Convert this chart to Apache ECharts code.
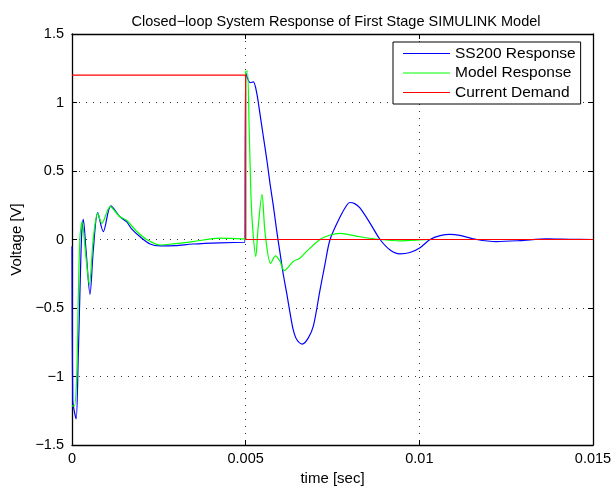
<!DOCTYPE html>
<html><head><meta charset="utf-8">
<script src="https://cdn.jsdelivr.net/npm/echarts@6/dist/echarts.min.js"></script>
<style>html,body{margin:0;padding:0;background:#fff}#c{width:615px;height:486px}</style>
</head><body><div id="c"></div>
<script>
const titleText = "Closed\u2212loop System Response of First Stage SIMULINK Model";
const seriesNames = ["SS200 Response", "Model Response", "Current Demand"];
const xTicks = [0, 0.005, 0.01, 0.015];
const yTicks = [-1.5, -1, -0.5, 0, 0.5, 1, 1.5];

const ssTime = [0, 0.00002, 0.00006, 0.00012, 0.00018, 0.00023, 0.00028, 0.000325, 0.000403, 0.000518, 0.000613, 0.00074, 0.0009, 0.00112, 0.00138, 0.00157, 0.00171, 0.00196, 0.00225, 0.00253, 0.00297, 0.00348, 0.00426, 0.00498, 0.005,
  0.005, 0.00513, 0.00522, 0.00532, 0.00541, 0.00551, 0.00561, 0.0057, 0.0058, 0.00589, 0.00599, 0.00608, 0.00618, 0.00628, 0.00637, 0.00647, 0.00663, 0.0068, 0.00695, 0.00714, 0.00728, 0.00743, 0.00772, 0.00791, 0.008, 0.00815, 0.00829, 0.00858, 0.00887, 0.00916, 0.00944, 0.00973, 0.01002, 0.01031, 0.0106, 0.01088, 0.01117, 0.01165, 0.01222, 0.0129, 0.01367, 0.01434, 0.015];
const ssVolt = [-0.05, -1.17, -1.245, -1.31, -0.855, -0.37, 0.045, 0.147, -0.077, -0.40, -0.077, 0.196, 0.057, 0.245, 0.166, 0.13, 0.08, 0.02, -0.033, -0.047, -0.045, -0.033, -0.024, -0.02, -0.02,
  1.218, 1.145, 1.15, 1.067, 0.92, 0.75, 0.58, 0.41, 0.24, 0.07, -0.10, -0.25, -0.39, -0.54, -0.66, -0.73, -0.763, -0.72, -0.63, -0.37, -0.185, 0, 0.166, 0.25, 0.27, 0.26, 0.23, 0.12, 0, -0.077, -0.105, -0.095, -0.06, 0, 0.028, 0.038, 0.03, 0, -0.015, -0.008, 0.005, 0.002, 0];

const modelTime = [0, 0.00007, 0.000135, 0.00018, 0.00023, 0.00029, 0.0004, 0.0005, 0.00061, 0.00074, 0.00086, 0.0011, 0.00136, 0.00157, 0.00186, 0.00215, 0.00253, 0.00297, 0.00348, 0.00426, 0.00492, 0.005,
  0.005, 0.00505, 0.0051, 0.00515, 0.0052, 0.00529, 0.00536, 0.00547, 0.00556, 0.00572, 0.00586, 0.00599, 0.00611, 0.00637, 0.00656, 0.00676, 0.00714, 0.00743, 0.00772, 0.00829, 0.00887, 0.00944, 0.01031, 0.015];
const modelVolt = [-1.215, -1.215, -1.0, -0.44, 0.02, 0.13, -0.125, -0.33, 0, 0.19, 0.118, 0.24, 0.17, 0.14, 0.06, 0, -0.04, -0.03, -0.015, 0.01, 0.005, 0.005,
  1.225, 1.23, 0.82, 0.34, 0.09, -0.125, 0.09, 0.33, 0.045, -0.174, -0.12, -0.16, -0.228, -0.16, -0.137, -0.085, 0, 0.033, 0.045, 0.02, 0, -0.01, 0, 0];

const demandTime = [0, 0.005, 0.005, 0.015];
const demandVolt = [1.2, 1.2, 0, 0];

const zip = (a, b) => a.map((t, i) => [t, b[i]]);
const fmtY = v => String(v).replace('-', '\u2212');
const FONT = 'Liberation Sans, Arial, Helvetica, sans-serif';
const chart = echarts.init(document.getElementById('c'), null, {renderer: 'canvas'});

const baseX = {
  type: 'value', min: xTicks[0], max: xTicks[xTicks.length - 1], interval: 0.005,
  axisLine: {show: true, onZero: false, lineStyle: {color: '#000', width: 1.3}},
  axisTick: {show: true, inside: true, length: 5, lineStyle: {color: '#000'}},
};
const baseY = {
  type: 'value', min: yTicks[0], max: yTicks[yTicks.length - 1], interval: 0.5,
  axisLine: {show: true, onZero: false, lineStyle: {color: '#000', width: 1.3}},
  axisTick: {show: true, inside: true, length: 5, lineStyle: {color: '#000'}},
};
const dotted = {show: true, lineStyle: {color: '#333', width: 1, type: [1, 6]}};
const lineIcon = 'path://M0,0 L48,0 L48,1 L0,1 Z';

chart.setOption({
  animation: false,
  backgroundColor: '#fff',
  title: {
    text: titleText, left: 331, top: 9, textAlign: 'center',
    textStyle: {fontFamily: FONT, fontSize: 14.5, fontWeight: 'normal', color: '#000'}
  },
  legend: {
    orient: 'vertical', left: 393, top: 42,
    data: seriesNames.map(n => ({name: n, icon: lineIcon})),
    itemWidth: 47, itemHeight: 1.2, itemGap: 2.5, itemTextGap: 7,
    padding: [3, 5, 3, 10],
    backgroundColor: '#fff', borderColor: '#000', borderWidth: 1, borderRadius: 0,
    textStyle: {fontFamily: FONT, fontSize: 15.5, color: '#000', lineHeight: 17}
  },
  grid: {left: 72, right: 22, top: 34, bottom: 41, containLabel: false, outerBoundsMode: 'none'},
  xAxis: [
    Object.assign({}, baseX, {
      position: 'bottom',
      name: 'time [sec]', nameLocation: 'middle', nameGap: 24,
      nameTextStyle: {fontFamily: FONT, fontSize: 15, color: '#000'},
      axisLabel: {show: true, fontFamily: FONT, fontSize: 14.5, color: '#000', margin: 6},
      splitLine: dotted
    }),
    Object.assign({}, baseX, {position: 'top', axisLabel: {show: false}, splitLine: {show: false}})
  ],
  yAxis: [
    Object.assign({}, baseY, {
      position: 'left',
      name: 'Voltage [V]', nameLocation: 'middle', nameGap: 43, nameRotate: 90,
      nameTextStyle: {fontFamily: FONT, fontSize: 15, color: '#000'},
      axisLabel: {show: true, fontFamily: FONT, fontSize: 14.5, color: '#000', margin: 8, formatter: fmtY},
      splitLine: dotted
    }),
    Object.assign({}, baseY, {position: 'right', axisLabel: {show: false}, splitLine: {show: false}})
  ],
  series: [
    {name: seriesNames[0], type: 'line', data: zip(ssTime, ssVolt), symbol: 'none', smooth: 0.3, z: 2,
      lineStyle: {color: '#0000ff', width: 1.2}, itemStyle: {color: '#0000ff'}},
    {name: seriesNames[1], type: 'line', data: zip(modelTime, modelVolt), symbol: 'none', smooth: 0.3, z: 3,
      lineStyle: {color: '#00ff00', width: 1.2}, itemStyle: {color: '#00ff00'}},
    {name: seriesNames[2], type: 'line', data: zip(demandTime, demandVolt), symbol: 'none', z: 4,
      lineStyle: {color: '#ff0000', width: 1.2}, itemStyle: {color: '#ff0000'}}
  ]
});
</script></body></html>
